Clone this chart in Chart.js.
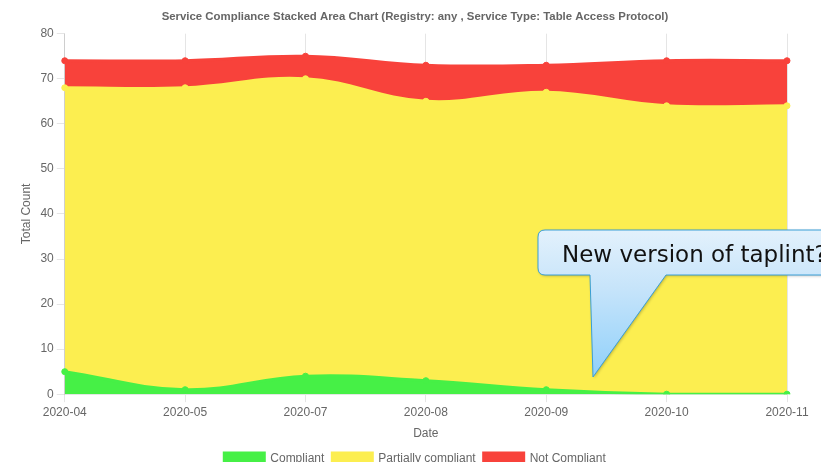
<!DOCTYPE html>
<html>
<head>
<meta charset="utf-8">
<script src="https://cdn.jsdelivr.net/npm/chart.js@4/dist/chart.umd.min.js"></script>
<style>
html,body{margin:0;padding:0;background:#fff;overflow:hidden;}
#wrap{position:relative;width:821px;height:475px;}
</style>
</head>
<body>
<div id="wrap"><canvas id="c"></canvas></div>
<script>
const categories = ["2020-04","2020-05","2020-07","2020-08","2020-09","2020-10","2020-11"];
const compliant = [5, 1, 4, 3, 1, 0, 0];
const partiallyCompliant = [63, 67, 66, 62, 66, 64, 64];
const notCompliant = [6, 6, 5, 8, 6, 10, 10];
const yTicks = [0,10,20,30,40,50,60,70,80];
const calloutText = "New version of taplint?";

Chart.defaults.font.family = "'Liberation Sans', Arial, Helvetica, sans-serif";
Chart.defaults.color = "#666";

const callout = {
  id: 'callout',
  afterDraw(chart) {
    const ctx = chart.ctx;
    const x0 = 538, y0 = 230, x1 = 850, y1 = 275, r = 7;
    const bl = 590, br = 666, tx = 593, ty = 377;
    ctx.save();
    const g = ctx.createLinearGradient(0, y0, 0, ty);
    g.addColorStop(0, '#e3f1fc');
    g.addColorStop(0.4, '#c6e4fa');
    g.addColorStop(1, '#8fd0fa');
    ctx.shadowColor = 'rgba(0,0,0,0.25)';
    ctx.shadowBlur = 3;
    ctx.shadowOffsetX = 1;
    ctx.shadowOffsetY = 1;
    ctx.beginPath();
    ctx.moveTo(x0 + r, y0);
    ctx.lineTo(x1, y0);
    ctx.lineTo(x1, y1);
    ctx.lineTo(br, y1);
    ctx.lineTo(tx, ty);
    ctx.lineTo(bl, y1);
    ctx.lineTo(x0 + r, y1);
    ctx.quadraticCurveTo(x0, y1, x0, y1 - r);
    ctx.lineTo(x0, y0 + r);
    ctx.quadraticCurveTo(x0, y0, x0 + r, y0);
    ctx.closePath();
    ctx.fillStyle = g;
    ctx.fill();
    ctx.shadowColor = 'transparent';
    ctx.strokeStyle = '#3a9fd6';
    ctx.lineWidth = 1;
    ctx.stroke();
    ctx.fillStyle = '#111';
    ctx.font = "23px 'DejaVu Sans', Verdana, sans-serif";
    ctx.textBaseline = 'alphabetic';
    ctx.textAlign = 'left';
    ctx.fillText(calloutText, 562, 262);
    ctx.restore();
  }
};

new Chart(document.getElementById('c'), {
  type: 'line',
  data: {
    labels: categories,
    datasets: [
      { label: 'Compliant', data: compliant, backgroundColor: '#46f046', borderColor: '#46f046', pointBackgroundColor: '#46f046', fill: 'origin' },
      { label: 'Partially compliant', data: partiallyCompliant, backgroundColor: '#fcee50', borderColor: '#fcee50', pointBackgroundColor: '#fcee50', fill: '-1' },
      { label: 'Not Compliant', data: notCompliant, backgroundColor: '#f8423b', borderColor: '#f8423b', pointBackgroundColor: '#f8423b', fill: '-1' }
    ]
  },
  options: {
    responsive: true,
    maintainAspectRatio: false,
    animation: false,
    elements: { line: { tension: 0.4, borderWidth: 3 }, point: { radius: 3 } },
    layout: { padding: { left: 15, right: 6 } },
    plugins: {
      title: { display: true, text: 'Service Compliance Stacked Area Chart (Registry: any , Service Type: Table Access Protocol)', font: { size: 11.4, weight: 'bold' } },
      legend: { position: 'bottom', labels: { font: { size: 12 }, padding: 8 } },
      tooltip: { enabled: false }
    },
    scales: {
      x: {
        title: { display: true, text: 'Date', font: { size: 12 } },
        ticks: { font: { size: 12 }, maxRotation: 0 },
        grid: { color: 'rgba(0,0,0,0.1)' },
        afterFit(scale) { scale.paddingRight = 34; }
      },
      y: {
        stacked: true,
        min: 0, max: 80,
        afterBuildTicks(axis) { axis.ticks = yTicks.map(v => ({ value: v })); },
        title: { display: true, text: 'Total Count', font: { size: 12 } },
        ticks: { font: { size: 12 } },
        grid: { drawOnChartArea: false, drawTicks: true, color: 'rgba(0,0,0,0.1)' }
      }
    }
  },
  plugins: [callout]
});
</script>
</body>
</html>
